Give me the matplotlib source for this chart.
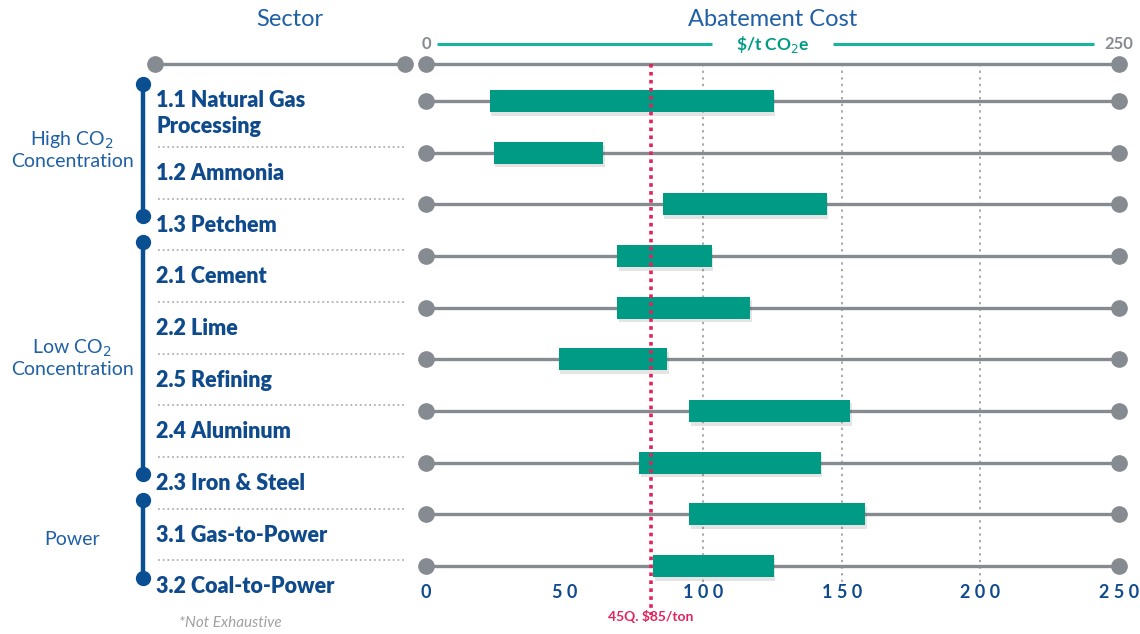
import matplotlib
matplotlib.use("Agg")
import matplotlib.pyplot as plt
import matplotlib.patheffects as pe

# -----------------------------
# Data
# -----------------------------
sectors = [
    "1.1 Natural Gas\nProcessing",
    "1.2 Ammonia",
    "1.3 Petchem",
    "2.1 Cement",
    "2.2 Lime",
    "2.5 Refining",
    "2.4 Aluminum",
    "2.3 Iron & Steel",
    "3.1 Gas-to-Power",
    "3.2 Coal-to-Power",
]
cost_low = [23, 24.5, 85.5, 69, 69, 48, 95, 77, 95, 82]
cost_high = [125.5, 64, 144.5, 103, 117, 87, 153, 142.5, 158.5, 125.5]

groups = ["High CO$_2$\nConcentration", "Low CO$_2$\nConcentration", "Power"]
group_rows = [(0, 2), (3, 7), (8, 9)]

x_ticks = [0, 50, 100, 150, 200, 250]
grid_ticks = [100, 150, 200]
credit_45q = 81   # where the dotted 45Q line sits on the chart
axis_min, axis_max = 0, 250

# -----------------------------
# Styling
# -----------------------------
GRAY = "#868b92"
TEAL = "#009b85"
TEAL_LINE = "#17b59b"
RED = "#e2245c"
NAVY = "#0f4a8c"
BLUE = "#1f5fa6"
BRACKET = "#0b4f93"
FONT = "Lato"

W, H = 1140, 634
X0_PX, X250_PX = 426, 1119       # pixel positions of 0 and 250
ROW0_PX, ROW_STEP = 101, 51.67   # pixel position of first row, spacing

fig = plt.figure(figsize=(W / 100, H / 100), dpi=100)
fig.patch.set_facecolor("white")

ylim = ((H - ROW0_PX) / ROW_STEP, -ROW0_PX / ROW_STEP)

# left panel in pixel x, rows in y
axl = fig.add_axes([0, 0, 1, 1])
axl.set_xlim(0, W)
axl.set_ylim(*ylim)
axl.axis("off")

# main chart in cost units
ax = fig.add_axes([0, 0, 1, 1])
scale = (X250_PX - X0_PX) / (axis_max - axis_min)
ax.set_xlim(axis_min - X0_PX / scale, axis_min + (W - X0_PX) / scale)
ax.set_ylim(*ylim)
ax.axis("off")
ax.patch.set_alpha(0)

rows = list(range(len(sectors)))
top_row = -0.72
bottom_label_row = 9.52

# -----------------------------
# Headers
# -----------------------------
axl.text(290, -1.57, "Sector", ha="center", va="center", fontsize=17,
         color=BLUE, family=FONT)
ax.text(125, -1.57, "Abatement Cost", ha="center",
        va="center", fontsize=17, color=BLUE, family=FONT)

unit_row = -1.1
ax.plot([4, 103], [unit_row, unit_row], color=TEAL_LINE, lw=2.2,
        solid_capstyle="butt")
ax.plot([147, 241], [unit_row, unit_row], color=TEAL_LINE, lw=2.2,
        solid_capstyle="butt")
ax.text(125, unit_row, r"\$/t CO$_2$e", ha="center", va="center", fontsize=12.5,
        color=TEAL, fontweight="bold", family=FONT)
ax.text(axis_min, unit_row, str(axis_min), ha="center", va="center",
        fontsize=12, color=GRAY, fontweight="bold", family=FONT)
ax.text(axis_max, unit_row, str(axis_max), ha="center", va="center",
        fontsize=12, color=GRAY, fontweight="bold", family=FONT)

# top gray rules
axl.plot([155, 405], [top_row, top_row], color=GRAY, lw=2.4,
         marker="o", ms=11, zorder=3)
ax.plot([axis_min, axis_max], [top_row, top_row], color=GRAY, lw=2.4,
        marker="o", ms=11, zorder=3)

# -----------------------------
# Grid + rows
# -----------------------------
for g in grid_ticks:
    ax.plot([g, g], [top_row, 9.35], color="#a9a9a9", lw=1.4,
            linestyle=(0, (1.2, 2.2)), zorder=1)

for r in rows:
    ax.plot([axis_min, axis_max], [r, r], color=GRAY, lw=2.4,
            marker="o", ms=11, zorder=2)

shadow = [pe.SimplePatchShadow(offset=(1, -2.5), alpha=0.14, shadow_rgbFace="#444444"),
          pe.Normal()]
bars = ax.barh(rows, [h - l for l, h in zip(cost_low, cost_high)],
               left=cost_low, height=0.43, color=TEAL, zorder=4)
for b in bars:
    b.set_path_effects(shadow)

ax.plot([credit_45q, credit_45q], [top_row, 9.95], color=RED, lw=2.6,
        linestyle=(0, (1, 1.2)), zorder=5)
ax.text(credit_45q, 9.98, "45Q. $85/ton", ha="center", va="center",
        fontsize=10, color=RED, fontweight="bold", family=FONT)

for t in x_ticks:
    ax.text(t, bottom_label_row, " ".join(str(t)), ha="center", va="center",
            fontsize=13, color=NAVY, fontweight="bold", family=FONT)

# -----------------------------
# Left panel: sectors
# -----------------------------
for r, name in enumerate(sectors):
    y = 0.24 if r == 0 else r + 0.40
    axl.text(156, y, name, ha="left", va="center", fontsize=15.5,
             color=NAVY, fontweight="heavy", family=FONT, linespacing=1.3)
    if r > 0:
        axl.plot([158, 404], [r - 0.11, r - 0.11], color="#b0b0b0", lw=1.3,
                 linestyle=(0, (1, 1.6)))

# group brackets
for name, (r0, r1) in zip(groups, group_rows):
    y0 = r0 - 0.33 if r0 == 0 else r0 - 0.27
    y1 = r1 + 0.22 if r1 < 9 else r1 + 0.24
    axl.plot([143, 143], [y0, y1], color=BRACKET, lw=3.2,
             marker="o", ms=10, zorder=3)
    axl.text(72, (y0 + y1) / 2, name, ha="center", va="center", fontsize=14,
             color=BLUE, family=FONT, linespacing=1.15)

axl.text(230, 10.1, "*Not Exhaustive", ha="center", va="center", fontsize=11,
         color="#a0a0a0", style="italic", family=FONT)

fig.savefig("out.png", dpi=100)
